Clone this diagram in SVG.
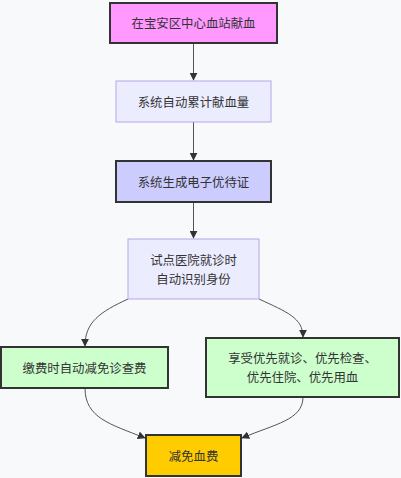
<svg xmlns="http://www.w3.org/2000/svg" width="401" height="478" viewBox="0 0 401 478">
<style>
.bg{fill:#f8f9fb}
.dark{stroke:#333;stroke-width:2}
.light{fill:#ececff;stroke:#b5a6ea;stroke-width:1}
text{font-family:"Noto Sans CJK SC","Liberation Sans",sans-serif;font-size:12.4px;fill:#333;text-anchor:middle;dominant-baseline:central}
.e{fill:none;stroke:#555;stroke-width:1}
</style>
<defs>
<marker id="arr" viewBox="0 0 10 10" refX="9" refY="5" markerWidth="8" markerHeight="8" orient="auto-start-reverse" markerUnits="userSpaceOnUse">
<path d="M0,0L10,5L0,10z" fill="#333"/>
</marker>
</defs>
<rect class="bg" x="0" y="0" width="401" height="478"/>
<g id="edges">
<path class="e" d="M193.5,43V80" marker-end="url(#arr)"/>
<path class="e" d="M193.5,122V160" marker-end="url(#arr)"/>
<path class="e" d="M193.5,202V238" marker-end="url(#arr)"/>
<path class="e" d="M128,299C100,312 85,322 85,346" marker-end="url(#arr)"/>
<path class="e" d="M259,299C287,312 303,318 303,337" marker-end="url(#arr)"/>
<path class="e" d="M85,388C85,418 110,424 145,438" marker-end="url(#arr)"/>
<path class="e" d="M303,397C303,420 275,424 242,438" marker-end="url(#arr)"/>
</g>
<g id="n1"><rect x="110" y="3" width="167" height="40" fill="#ff99ff" class="dark"/><text x="193.5" y="23">在宝安区中心血站献血</text></g>
<g id="n2"><rect x="116" y="81" width="155" height="41" class="light"/><text x="193.5" y="101.5">系统自动累计献血量</text></g>
<g id="n3"><rect x="116" y="161" width="155" height="41" fill="#ccccff" class="dark"/><text x="193.5" y="181.5">系统生成电子优待证</text></g>
<g id="n4"><rect x="128" y="239" width="131" height="60" class="light"/><text x="193.5" y="260">试点医院就诊时</text><text x="193.5" y="279">自动识别身份</text></g>
<g id="n5"><rect x="1" y="347" width="167" height="41" fill="#ccffcc" class="dark"/><text x="84.5" y="367.5">缴费时自动减免诊查费</text></g>
<g id="n6"><rect x="206" y="338" width="193" height="59" fill="#ccffcc" class="dark"/><text x="302.5" y="358">享受优先就诊、优先检查、</text><text x="302.5" y="377">优先住院、优先用血</text></g>
<g id="n7"><rect x="146" y="435" width="95" height="41" fill="#ffcc00" class="dark"/><text x="193.5" y="455.5">减免血费</text></g>
</svg>
